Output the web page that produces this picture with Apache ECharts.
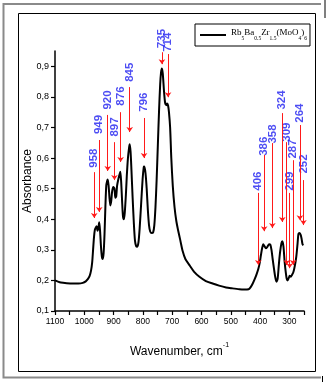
<!DOCTYPE html>
<html>
<head>
<meta charset="utf-8">
<script src="https://cdn.jsdelivr.net/npm/echarts@6/dist/echarts.min.js"></script>
<style>
  html, body { margin: 0; padding: 0; background: #fff; }
  #chart { width: 326px; height: 382px; }
</style>
</head>
<body>
<div id="chart"></div>
<script>
// IR spectrum, wavenumber (cm-1) vs absorbance
var wavenumber = [
  1100, 1090, 1080, 1060, 1040, 1020, 1005, 995, 988, 982,
  977, 973, 970, 967, 964, 961, 958, 955, 952, 949,
  946, 943, 940, 937, 934, 931, 928, 925, 922, 920,
  917, 914, 911, 908, 905, 901, 897, 894, 891, 888,
  884, 880, 877, 874, 871, 868, 865, 862, 858, 855,
  851, 847, 845, 842, 839, 835, 831, 827, 823, 819,
  815, 811, 806, 801, 797, 795, 791, 787, 783, 779,
  775, 770, 765, 761, 757, 753, 749, 745, 741, 738,
  735, 732, 728, 724, 720, 717, 714, 711, 707, 703,
  698, 692, 686, 680, 672, 664, 655, 641, 625, 607,
  585, 562, 540, 516, 495, 471, 455, 439, 432, 425,
  418, 412, 406, 401, 397, 393, 389, 385, 380, 375,
  369, 365, 361, 357, 352, 348, 344, 340, 336, 332,
  327, 324, 320, 316, 312, 309, 306, 302, 299, 295,
  291, 287, 283, 279, 276, 272, 269, 265, 261, 258,
  255, 252
];
var absorbance = [
  0.200, 0.196, 0.193, 0.191, 0.190, 0.190, 0.192, 0.197, 0.204, 0.214,
  0.232, 0.260, 0.300, 0.340, 0.365, 0.372, 0.377, 0.362, 0.372, 0.390,
  0.360, 0.310, 0.278, 0.270, 0.290, 0.350, 0.440, 0.510, 0.525, 0.530,
  0.510, 0.470, 0.445, 0.460, 0.490, 0.505, 0.500, 0.470, 0.475, 0.510,
  0.530, 0.545, 0.555, 0.520, 0.460, 0.410, 0.400, 0.420, 0.480, 0.540,
  0.600, 0.635, 0.645, 0.620, 0.560, 0.470, 0.390, 0.330, 0.312, 0.310,
  0.325, 0.370, 0.450, 0.530, 0.570, 0.572, 0.550, 0.500, 0.430, 0.380,
  0.360, 0.355, 0.357, 0.380, 0.440, 0.530, 0.640, 0.750, 0.840, 0.880,
  0.893, 0.875, 0.820, 0.780, 0.773, 0.778, 0.772, 0.750, 0.700, 0.600,
  0.510, 0.440, 0.395, 0.365, 0.330, 0.295, 0.270, 0.250, 0.228, 0.212,
  0.198, 0.190, 0.183, 0.177, 0.174, 0.171, 0.170, 0.171, 0.178, 0.190,
  0.205, 0.220, 0.237, 0.258, 0.283, 0.305, 0.318, 0.312, 0.305, 0.310,
  0.318, 0.317, 0.300, 0.270, 0.235, 0.210, 0.196, 0.205, 0.250, 0.290,
  0.322, 0.328, 0.310, 0.260, 0.225, 0.205, 0.200, 0.208, 0.215, 0.212,
  0.218, 0.225, 0.240, 0.260, 0.280, 0.320, 0.352, 0.355, 0.348, 0.335,
  0.318, 0.315
];

// peak annotations
var peakLabels = ['958', '949', '920', '897', '876', '845', '796', '735', '714',
  '406', '386', '358', '324', '309', '299', '287', '264', '252'];
var arrowWn = [966, 949, 920, 897, 876, 845, 796, 735, 714,
  406, 386, 358, 324, 309, 299, 287, 264, 252];
var labelA = [0.603, 0.713, 0.793, 0.705, 0.806, 0.884, 0.786, 0.994, 0.982,
  0.528, 0.642, 0.682, 0.793, 0.688, 0.528, 0.633, 0.750, 0.584];
var arrowTop = [0.554, 0.659, 0.741, 0.652, 0.750, 0.832, 0.731, 0.946, 0.940,
  0.486, 0.610, 0.649, 0.747, 0.652, 0.486, 0.593, 0.708, 0.528];
var arrowTip = [0.404, 0.424, 0.558, 0.528, 0.587, 0.685, 0.600, 0.907, 0.799,
  0.250, 0.361, 0.371, 0.391, 0.250, 0.240, 0.250, 0.397, 0.381];

var seriesName = 'Rb5Ba0.5Zr1.5(MoO4)6';

var chart = echarts.init(document.getElementById('chart'), null, { renderer: 'canvas' });

var lineData = wavenumber.map(function (w, i) { return [w, absorbance[i]]; });
var arrows = arrowWn.map(function (w, i) {
  return [{ coord: [w, arrowTop[i]] }, { coord: [w, arrowTip[i]] }];
});
var labelData = arrowWn.map(function (w, i) {
  return { name: peakLabels[i], value: [w, labelA[i]] };
});

var options = {
  animation: false,
  grid: { left: 55, right: 22, top: 51, bottom: 71 },
  legend: {
    data: [seriesName],
    left: 195,
    top: 24,
    padding: [4, 3, 4, 5],
    borderColor: '#000',
    borderWidth: 1,
    icon: 'rect',
    itemWidth: 26,
    itemHeight: 2,
    selectedMode: false,
    formatter: function () {
      return '{n|Rb}{s|5}{n|Ba}{s|0.5}{n|Zr}{s|1.5}{n|(MoO}{s|4}{n|)}{s|6}';
    },
    textStyle: {
      color: '#000',
      rich: {
        n: { fontFamily: 'Liberation Serif', fontSize: 9, color: '#000', verticalAlign: 'top', lineHeight: 14 },
        s: { fontFamily: 'Liberation Serif', fontSize: 5.5, color: '#000', verticalAlign: 'bottom', lineHeight: 14 }
      }
    }
  },
  xAxis: {
    type: 'value',
    inverse: true,
    min: 250,
    max: 1100,
    interval: 50,
    name: '{n|Wavenumber, cm}{sup|-1}',
    nameLocation: 'middle',
    nameGap: 31,
    nameMoveOverlap: false,
    nameTextStyle: {
      rich: {
        n: { fontFamily: 'Liberation Sans', fontSize: 12, color: '#000', verticalAlign: 'bottom', lineHeight: 16 },
        sup: { fontFamily: 'Liberation Sans', fontSize: 7, color: '#000', verticalAlign: 'top', lineHeight: 16 }
      }
    },
    axisLine: { lineStyle: { color: '#000', width: 1.5 } },
    axisTick: { length: 4, lineStyle: { color: '#000', width: 1.2 } },
    axisLabel: {
      color: '#000',
      fontFamily: 'Liberation Sans',
      fontSize: 8.5,
      margin: 6,
      formatter: function (v) { return v % 100 === 0 ? String(v) : ''; }
    },
    splitLine: { show: false }
  },
  yAxis: {
    type: 'value',
    min: 0.1,
    max: 0.95,
    interval: 0.1,
    name: 'Absorbance',
    nameLocation: 'middle',
    nameGap: 21,
    nameMoveOverlap: false,
    nameTextStyle: { fontFamily: 'Liberation Sans', fontSize: 12, color: '#000' },
    axisLine: { show: true, lineStyle: { color: '#000', width: 1.5 } },
    axisTick: { show: true, length: 4, lineStyle: { color: '#000', width: 1.2 } },
    axisLabel: {
      color: '#000',
      fontFamily: 'Liberation Sans',
      fontSize: 9,
      margin: 6,
      showMaxLabel: false,
      formatter: function (v) { return v.toFixed(1).replace('.', ','); }
    },
    splitLine: { show: false }
  },
  series: [
    {
      name: seriesName,
      type: 'line',
      data: lineData,
      symbol: 'none',
      smooth: 0.25,
      itemStyle: { color: '#000' },
      lineStyle: { color: '#000', width: 2 },
      markLine: {
        silent: true,
        symbol: ['none', 'arrow'],
        symbolSize: 5,
        label: { show: false },
        lineStyle: { color: '#ff1a1a', width: 1, type: 'solid' },
        data: arrows
      }
    },
    {
      type: 'scatter',
      data: labelData,
      symbolSize: 1,
      clip: false,
      silent: true,
      itemStyle: { color: 'rgba(0,0,0,0)' },
      label: {
        show: true,
        position: 'inside',
        rotate: 90,
        offset: [-1, 0],
        formatter: '{b}',
        color: '#2020f0',
        fontFamily: 'Liberation Sans',
        fontWeight: 'bold',
        fontSize: 11.5
      }
    }
  ],
  graphic: [
    {
      type: 'rect',
      silent: true,
      z: -1,
      shape: { x: 18.5, y: 13.5, width: 297, height: 358 },
      style: { fill: 'none', stroke: '#000', lineWidth: 1 }
    },
    {
      type: 'polyline',
      silent: true,
      shape: { points: [[321, 4], [3.5, 4], [3.5, 377.5], [321, 377.5]] },
      style: { fill: 'none', stroke: '#8a8a8a', lineWidth: 2 }
    },
    {
      type: 'line',
      silent: true,
      shape: { x1: 325, y1: 0, x2: 325, y2: 18 },
      style: { stroke: '#000', lineWidth: 1 }
    },
    {
      type: 'line',
      silent: true,
      shape: { x1: 322.5, y1: 376, x2: 322.5, y2: 382 },
      style: { stroke: '#000', lineWidth: 1 }
    }
  ]
};

chart.setOption(options);
</script>
</body>
</html>
